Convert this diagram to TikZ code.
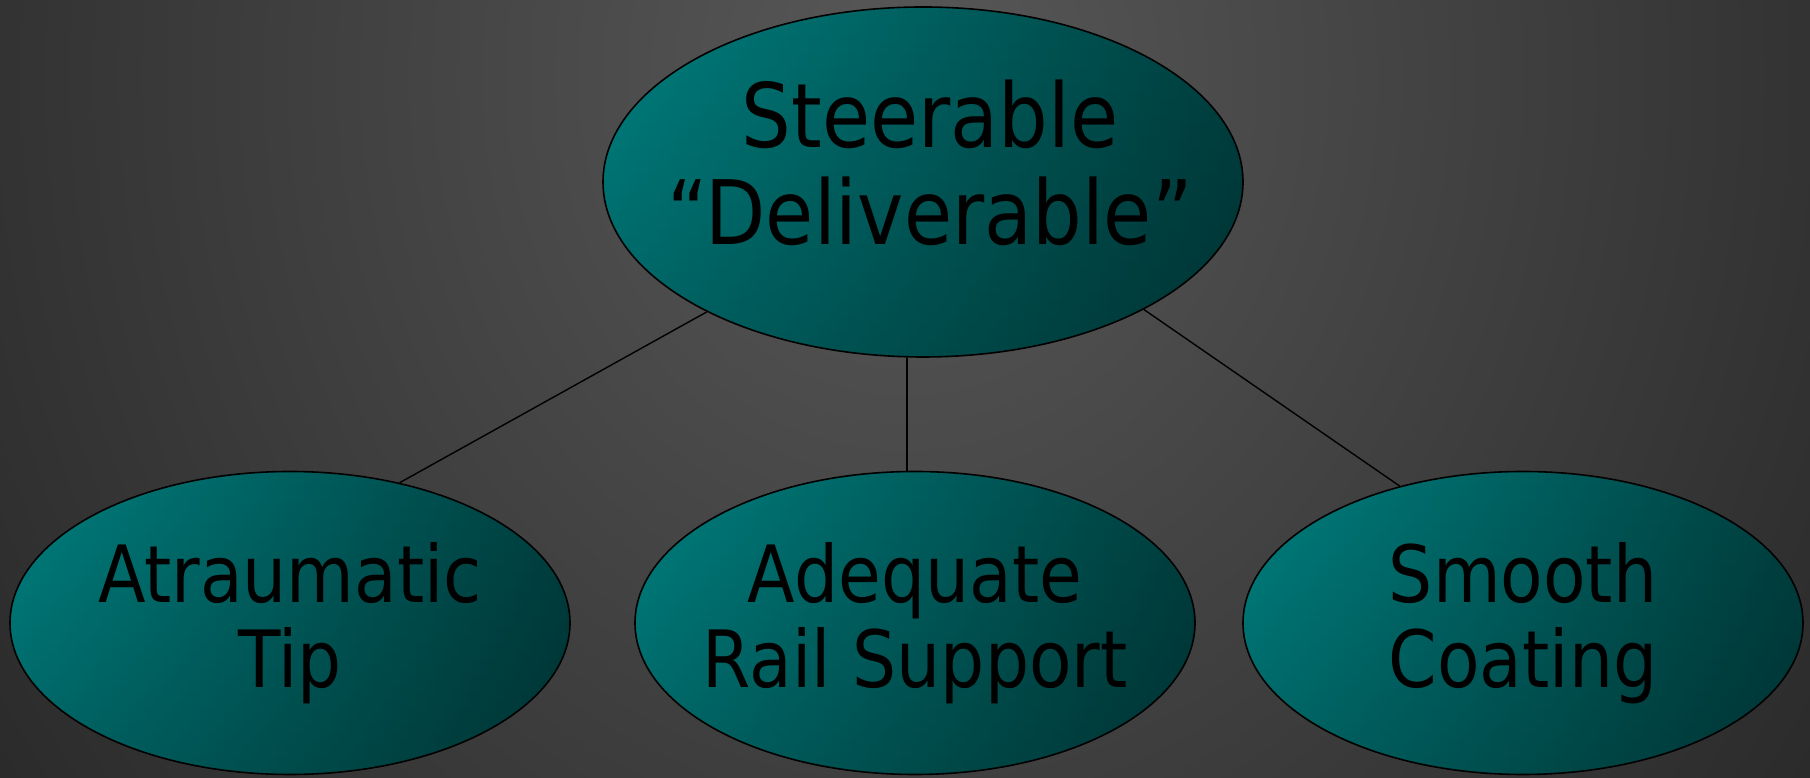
\documentclass[tikz,border=0pt]{standalone}
\usepackage{fontspec}
\setmainfont{DejaVu Sans}[FakeStretch=0.88]
\usepackage{xcolor}
\usepackage{tikz}
\usetikzlibrary{shapes.geometric,fadings,calc}
\usetikzlibrary{positioning}

\definecolor{bglight}{RGB}{88,88,88}
\definecolor{bgdark}{RGB}{30,30,30}
\definecolor{tealhi}{RGB}{0,128,128}
\definecolor{tealdk}{RGB}{0,64,64}

\begin{document}
\begin{tikzpicture}[x=1pt,y=1pt,
    bubble/.style={ellipse, draw=black, line width=1.6pt, inner sep=0pt,
        left color=tealhi, right color=tealdk,
        path picture={\fill[black, opacity=0.22, path fading=north]
            (path picture bounding box.south west) rectangle (path picture bounding box.north east);}},
    bigtxt/.style={align=center, text=black, font=\fontsize{89}{97}\selectfont},
    smalltxt/.style={align=center, text=black, font=\fontsize{79}{85}\selectfont},
    link/.style={draw=black, line width=1.4pt}]
    % background
    \useasboundingbox (0,0) rectangle (1810,778);
    \fill[bgdark] (0,0) rectangle (1810,778);
    \begin{scope}
        \clip (0,0) rectangle (1810,778);
        \shade[inner color=bglight, outer color=bgdark] (-500,-900) rectangle (2310,2300);
    \end{scope}
    % the bubbles
    \node[bubble, minimum width=640, minimum height=350] at (923,596) (steer) {};
    \node[bubble, minimum width=560, minimum height=303] at (290,155) (tip) {};
    \node[bubble, minimum width=560, minimum height=303] at (915,155) (rail) {};
    \node[bubble, minimum width=560, minimum height=303] at (1523,155) (coat) {};
    % texts
    \node[bigtxt] at ([xshift=7,yshift=19]steer.center) (steertxt) {Steerable\\“Deliverable”};
    \node[smalltxt] at ([yshift=0]tip.center) (tiptxt) {Atraumatic\\Tip};
    \node[smalltxt] at ([yshift=0]rail.center) (railtxt) {Adequate\\Rail Support};
    \node[smalltxt] at ([yshift=0]coat.center) (coattxt) {Smooth\\Coating};
    % links
    \draw[link] (steer.211) -- (tip.52);
    \draw[link] ([xshift=-16]steer.south) -- ([xshift=-8]rail.north);
    \draw[link] (steer.330) -- (coat.132);
\end{tikzpicture}
\end{document}
